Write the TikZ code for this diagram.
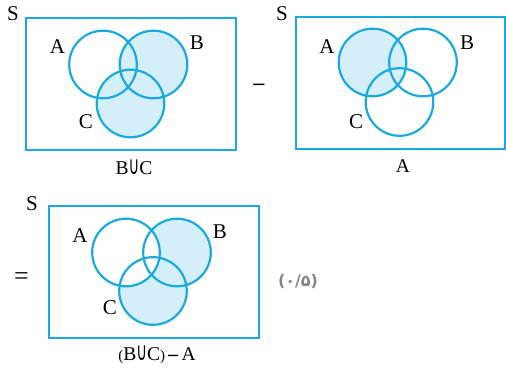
\documentclass[tikz,border=0pt]{standalone}
\usepackage{fontspec}
\setmainfont{Liberation Serif}
\newfontfamily\arabicfont[Script=Arabic]{DejaVu Sans}
\newfontfamily\cupfont{DejaVu Sans}
\newcommand\mycup{\scalebox{0.75}[1.3]{\cupfont\char"222A}}
\definecolor{vline}{HTML}{1BA9E1}
\definecolor{vfill}{HTML}{D4EEFA}
\definecolor{mgrey}{HTML}{858585}
\begin{document}
\begin{tikzpicture}[x=1pt,y=-1pt,
  setline/.style={draw=vline,line width=2.2pt},
  boxline/.style={draw=vline,line width=2pt},
  lbl/.style={inner sep=0pt,font=\fontsize{21}{21}\selectfont},
  captext/.style={inner sep=0pt,font=\fontsize{19.5}{19.5}\selectfont}]
\useasboundingbox (0,0) rectangle (506,369);
\def\R{33.8}
% ---------- Panel 1 : B cup C ----------
\fill[vfill] (153.5,64.5) circle (\R);
\fill[vfill] (130.5,103.5) circle (\R);
\draw[boxline] (26,18) rectangle (236,150);
\draw[setline] (103,64.5) circle (\R);
\draw[setline] (153.5,64.5) circle (\R);
\draw[setline] (130.5,103.5) circle (\R);
\node[lbl] (s1) at (13,14) {S};
\node[lbl] (a1) at (57.5,47) {A};
\node[lbl] (b1) at (197,43) {B};
\node[lbl] (c1) at (86,122) {C};
\node[captext] (t1) at (134,167) {B\mycup C};
% ---------- minus ----------
\node[inner sep=0pt,font=\cupfont\fontsize{18}{18}\selectfont] (minus) at (259,87.5) {\char"2212};
% ---------- Panel 2 : A ----------
\fill[vfill] (372.5,62.5) circle (\R);
\draw[boxline] (296,17) rectangle (504.5,149);
\draw[setline] (372.5,62.5) circle (\R);
\draw[setline] (423,62.5) circle (\R);
\draw[setline] (399.5,102) circle (\R);
\node[lbl] (s2) at (282,14) {S};
\node[lbl] (a2) at (327,47) {A};
\node[lbl] (b2) at (467,43) {B};
\node[lbl] (c2) at (356,122) {C};
\node[captext] (t2) at (403,166) {A};
% ---------- equals ----------
\node[inner sep=0pt,font=\fontsize{26}{26}\selectfont] (eq) at (21.5,279) {=};
% ---------- Panel 3 : (B cup C) - A ----------
\fill[vfill] (177,252.5) circle (\R);
\fill[vfill] (153,291) circle (\R);
\fill[white] (126,252.5) circle (\R);
\draw[boxline] (49,206) rectangle (259,338);
\draw[setline] (126,252.5) circle (\R);
\draw[setline] (177,252.5) circle (\R);
\draw[setline] (153,291) circle (\R);
\node[lbl] (s3) at (32,204) {S};
\node[lbl] (a3) at (80,236) {A};
\node[lbl] (b3) at (220,232) {B};
\node[lbl] (c3) at (110,308) {C};
\node[captext] (t3) at (157,355) {{\fontsize{15}{15}\selectfont(}B\mycup C{\fontsize{15}{15}\selectfont)}\,\textbf{–}\,A};
% ---------- score ----------
\node[inner sep=0pt,text=mgrey,font=\arabicfont\bfseries\fontsize{16}{16}\selectfont] (score) at (298,281) {(۰/۵)};
\end{tikzpicture}
\end{document}
